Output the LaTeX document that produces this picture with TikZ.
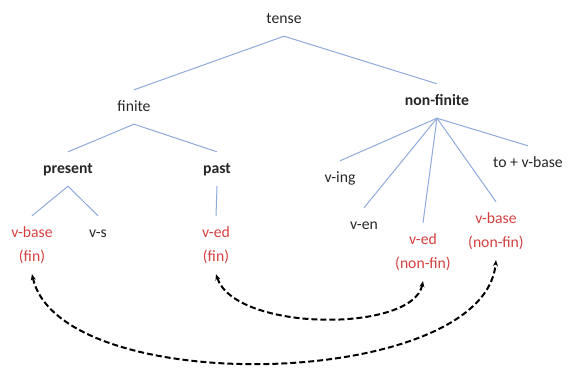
\documentclass[tikz,border=0pt]{standalone}
\usepackage{fontspec}
\setmainfont{Carlito}
\usepackage{xcolor}
\usetikzlibrary{arrows.meta}
\definecolor{branchblue}{RGB}{143,170,220}
\definecolor{formred}{RGB}{212,64,64}
\definecolor{wordgray}{RGB}{38,38,38}

\begin{document}
\begin{tikzpicture}[x=1pt, y=-1pt,
  word/.style={font=\fontsize{15.7}{24}\selectfont, text=wordgray, inner sep=0pt, minimum height=34pt, text height=11pt, text depth=3pt},
  head/.style={word, font=\fontsize{15.7}{24}\selectfont\bfseries},
  form/.style={font=\fontsize{15.7}{24}\selectfont, text=formred, inner sep=0pt, minimum height=58pt, align=center},
  branch/.style={branchblue, line width=1pt},
  link/.style={{Stealth[length=6pt,width=5pt]}-{Stealth[length=6pt,width=5pt]}, black, line width=2pt, dash pattern=on 6pt off 3pt}]
\useasboundingbox (0,0) rectangle (569,367);

% Root
\node[word] (tense) at (284,19) {tense};

% Finite side
\node[word] (finite) at (134,107) {finite};
\node[head] (present) at (68,169) {present};
\node[head] (past) at (217,169) {past};
\node[form] (vbasefin) at (32,245) {v-base\\(fin)};
\node[word] (vs) at (98,233) {v-s};
\node[form] (vedfin) at (216,245) {v-ed\\(fin)};

% Non-finite side
\node[head] (nonfinite) at (437,101) {non-finite};
\node[word] (ving) at (340,178) {v-ing};
\node[word] (ven) at (364,225) {v-en};
\node[form] (vednonfin) at (423,252) {v-ed\\(non-fin)};
\node[form] (vbasenonfin) at (496,231) {v-base\\(non-fin)};
\node[word] (tovbase) at (528,163) {to + v-base};

% Branches
\draw[branch] (tense.south) -- (finite.north);
\draw[branch] (tense.south) -- (nonfinite.north);
\draw[branch] (finite.south) -- (present.north);
\draw[branch] (finite.south) -- (past.north);
\draw[branch] (present.south) -- (vbasefin.north);
\draw[branch] (present.south) -- (vs.north);
\draw[branch] (past.south) -- (vedfin.north);
\foreach \kid in {ving,ven,vednonfin,vbasenonfin,tovbase}
  \draw[branch] (nonfinite.south) -- (\kid.north);

% Links between same forms
\draw[link] (vedfin.south) .. controls (235,332) and (413,333) .. (vednonfin.south);
\draw[link] (vbasefin.south) .. controls (60,400) and (484,390) .. (vbasenonfin.south);
\end{tikzpicture}
\end{document}
